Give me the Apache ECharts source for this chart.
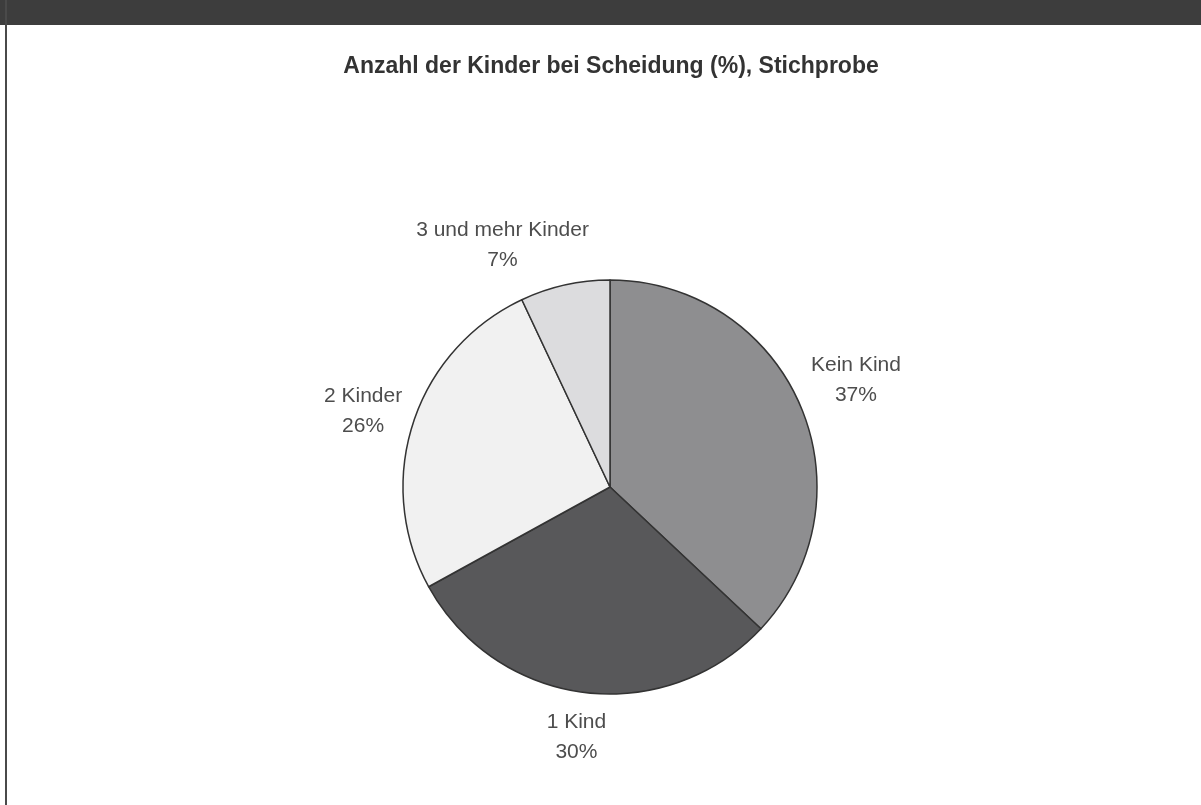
<!DOCTYPE html>
<html>
<head>
<meta charset="utf-8">
<script src="https://cdn.jsdelivr.net/npm/echarts@6/dist/echarts.min.js"></script>
<style>
  html, body { margin: 0; padding: 0; background: #ffffff; }
  #wrap { position: relative; width: 1201px; height: 805px; overflow: hidden; background: #fff; }
  #topbar { position: absolute; left: 0; top: 0; width: 1201px; height: 25px; background: #3d3d3d; }
  #leftbar { position: absolute; left: 5px; top: 0; width: 2px; height: 805px; background: #4a4a4a; }
  #chart { position: absolute; left: 0; top: 0; width: 1201px; height: 805px; }
</style>
</head>
<body>
<div id="wrap">
  <div id="chart"></div>
  <div id="topbar"></div>
  <div id="leftbar"></div>
</div>
<script>
const titleText = 'Anzahl der Kinder bei Scheidung (%), Stichprobe';
const categories = ['Kein Kind', '1 Kind', '2 Kinder', '3 und mehr Kinder'];
const values = [37, 30, 26, 7];
const colors = ['#8e8e90', '#58585a', '#f1f1f1', '#dcdcde'];
// label fine-tuning: horizontal padding [left, right], spacer line above / below (px)
const labelPadX = [[0, 0], [0, 0], [16, 0], [0, 98]];
const spacerTop = [0, 0, 14, 40];
const spacerBottom = [0, 32, 0, 0];

const chart = echarts.init(document.getElementById('chart'), null, { renderer: 'canvas' });

const pieData = categories.map((name, i) => ({
  name: name,
  value: values[i],
  itemStyle: { color: colors[i] }
}));

const labelData = categories.map((name, i) => {
  let fmt = '{b}\n{c}%';
  const rich = {};
  if (spacerTop[i] > 0) { fmt = '{t| }\n' + fmt; rich.t = { lineHeight: spacerTop[i], fontSize: 1 }; }
  if (spacerBottom[i] > 0) { fmt = fmt + '\n{u| }'; rich.u = { lineHeight: spacerBottom[i], fontSize: 1 }; }
  return {
    name: name,
    value: values[i],
    label: { padding: [0, labelPadX[i][1], 0, labelPadX[i][0]], formatter: fmt, rich: rich }
  };
});

chart.setOption({
  backgroundColor: '#ffffff',
  animation: false,
  title: {
    text: titleText,
    left: 606,
    top: 50,
    textAlign: 'center',
    textStyle: {
      fontFamily: 'Liberation Sans, Arial, sans-serif',
      fontWeight: 'bold',
      fontSize: 23,
      color: '#333333'
    }
  },
  series: [
    {
      type: 'pie',
      center: [610, 487],
      radius: [0, 207],
      startAngle: 90,
      clockwise: true,
      silent: true,
      label: { show: false },
      labelLine: { show: false },
      itemStyle: { borderColor: '#333333', borderWidth: 1.5 },
      data: pieData
    },
    {
      type: 'pie',
      center: [610, 487],
      radius: [0, 530],
      startAngle: 90,
      clockwise: true,
      silent: true,
      itemStyle: { color: 'rgba(0,0,0,0)', borderWidth: 0 },
      labelLine: { show: false },
      label: {
        show: true,
        position: 'inside',
        formatter: '{b}\n{c}%',
        fontFamily: 'Liberation Sans, Arial, sans-serif',
        fontSize: 21,
        lineHeight: 30,
        color: '#4d4d4d',
        align: 'center'
      },
      data: labelData
    }
  ]
});
</script>
</body>
</html>
